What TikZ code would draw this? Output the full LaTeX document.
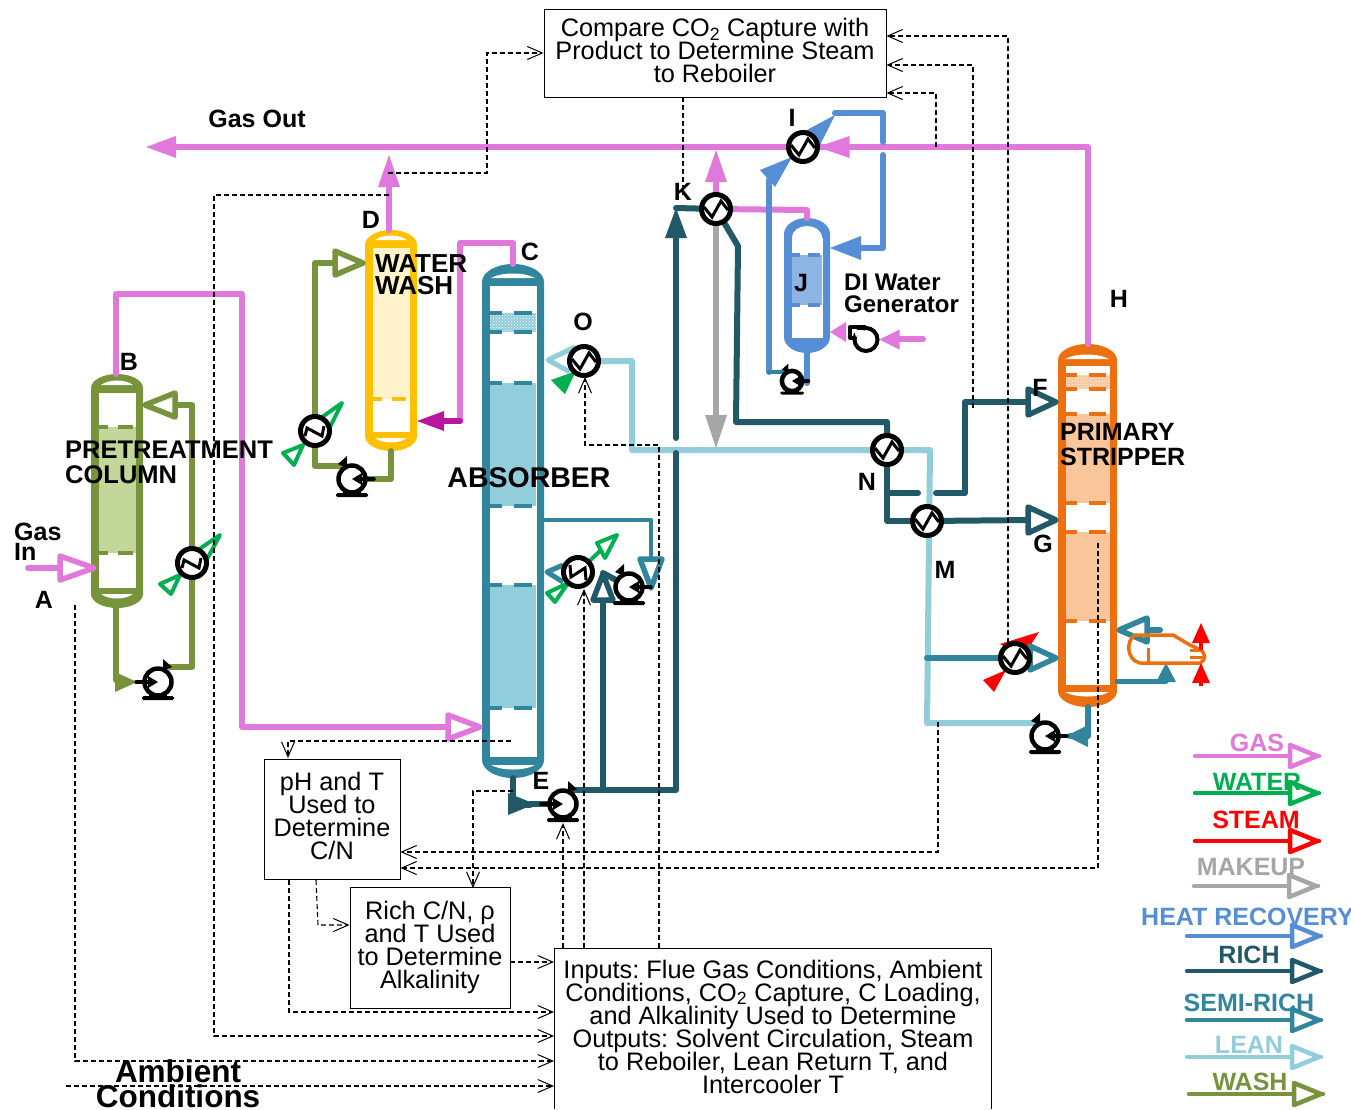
\documentclass[tikz,border=0pt]{standalone}
\usepackage{fontspec}
\setmainfont{Liberation Sans}
\usetikzlibrary{arrows.meta,patterns}
\lineskiplimit=-100pt
\frenchspacing
\definecolor{gasc}{HTML}{E178DC}
\definecolor{waterc}{HTML}{00B050}
\definecolor{steamc}{HTML}{FF0000}
\definecolor{makeupc}{HTML}{A6A6A6}
\definecolor{heatc}{HTML}{558ED5}
\definecolor{richc}{HTML}{215968}
\definecolor{semic}{HTML}{31859C}
\definecolor{leanc}{HTML}{92CDDC}
\definecolor{washc}{HTML}{77933C}
\definecolor{stripc}{HTML}{EC7010}
\definecolor{wwc}{HTML}{FFC000}
\definecolor{magc}{HTML}{B9169F}
\definecolor{prepack}{HTML}{C4D79B}
\definecolor{strpack}{HTML}{F9C59A}
\definecolor{jpack}{HTML}{8EB4E3}
\pgfdeclarelayer{ves}
\pgfdeclarelayer{bg}
\pgfsetlayers{ves,bg,main}
\tikzset{
  pipe/.style={line width=6pt,line cap=round,line join=round},
  coolw/.style={waterc,fill=white,line width=4pt,line join=round},
  ctrl/.style={line width=1.1pt,dash pattern=on 5pt off 3pt},
  ctrlarrow/.style={ctrl,-{Straight Barb[length=15pt,width=13pt,line width=1pt]}},
  hxnode/.style={circle,draw=black,fill=white,line width=5pt,minimum size=29pt,inner sep=0pt,outer sep=0pt},
  pumpnode/.style={circle,draw=black,fill=white,line width=4.5pt,inner sep=0pt,outer sep=0pt},
  vesselbox/.style={rectangle,inner sep=0pt,outer sep=0pt},
  box/.style={rectangle,draw=black,line width=0.8pt,fill=white,inner sep=0pt},
  txt/.style={inner sep=0pt,align=center,font=\fontsize{25.3}{23}\selectfont},
  lbl/.style={inner sep=0pt,font=\bfseries\fontsize{25}{25}\selectfont},
  leg/.style={inner sep=0pt,font=\bfseries\fontsize{25}{25}\selectfont},
}
% open and filled arrowheads: colour, tip, direction, length, half width
\newcommand\otri[5]{\begin{scope}[shift={#2},rotate=#3]
  \draw[#1,fill=white,line width=5.5pt,line join=round] (-2,0)--(-#4,#5)--(-#4,-#5)--cycle;\end{scope}}
\newcommand\ftri[5]{\begin{scope}[shift={#2},rotate=#3]
  \fill[#1] (0,0)--(-#4,#5)--(-#4,-#5)--cycle;\end{scope}}
% column: name, xl, xr, ytop, ybot, inner top, inner bottom, head height, colour
\newcommand\vesselbody[9]{%
  \pgfmathsetmacro\vm{(#2+#3)/2}\pgfmathsetmacro\vw{#3-#2}\pgfmathsetmacro\vh{#5-#4}%
  \pgfmathsetmacro\vc{(#4+#5)/2}\pgfmathsetmacro\hw{\vw/2}%
  \node[vesselbox,minimum width=\vw pt,minimum height=\vh pt] (#1) at (\vm,\vc) {};
  \fill[#9] (#2,#4+#8) .. controls (#2,#4+0.45*#8) and (\vm-0.55*\hw,#4) .. (\vm,#4)
    .. controls (\vm+0.55*\hw,#4) and (#3,#4+0.45*#8) .. (#3,#4+#8) -- (#3,#5-#8)
    .. controls (#3,#5-0.45*#8) and (\vm+0.55*\hw,#5) .. (\vm,#5)
    .. controls (\vm-0.55*\hw,#5) and (#2,#5-0.45*#8) .. (#2,#5-#8) -- cycle;
  \fill[white] (#2+7.5,#6) rectangle (#3-7.5,#7);}
\newcommand\crescents[4]{% xm, half width, y top crescent, y bottom crescent
  \fill[white] (#1-#2,#3) .. controls (#1-0.5*#2,#3-6) and (#1+0.5*#2,#3-6) .. (#1+#2,#3) -- cycle;
  \fill[white] (#1-#2,#4) .. controls (#1-0.5*#2,#4+6) and (#1+0.5*#2,#4+6) .. (#1+#2,#4) -- cycle;}
% packing: x1,x2,y1,y2,fill,dash colour
\newcommand\tdash[4]{\pgfmathsetmacro\dw{#2-#1}%
  \draw[#4,line width=3.5pt] (#1,#3)--(#1+0.26*\dw,#3) (#1+0.52*\dw,#3)--(#1+0.92*\dw,#3);}
\newcommand\packing[6]{\fill[#5] (#1,#3) rectangle (#2,#4);\tdash{#1}{#2}{#3}{#6}\tdash{#1}{#2}{#4}{#6}}
\newcommand\dotpack[6]{\fill[#5] (#1,#3) rectangle (#2,#4);
  \fill[pattern=crosshatch dots,pattern color=white] (#1,#3) rectangle (#2,#4);
  \tdash{#1}{#2}{#3}{#6}\tdash{#1}{#2}{#4}{#6}}
% heat exchanger: name,x,y,zigzag
\newcommand\hxn[4]{\node[hxnode] (#1) at (#2,#3) {};
  \begin{scope}[shift={(#2,#3)}]
  \draw[black,line width=3pt,line join=miter] #4;
  \end{scope}}
\newcommand\zigA{(-12,-2)--(-4,8)--(5,-8)--(12,1)}
\newcommand\zigB{(-10,5)--(-8,-3)--(7,5)--(9,-5)}
\newcommand\zigC{(-8,-7)--(-7,5)--(7,-4)--(8,8)}
% pump: name,x,y,mirror,scale
\newcommand\pumpn[5]{\pgfmathsetmacro\pd{27*#5}%
  \begin{scope}[shift={(#2,#3)},xscale=#4,scale=#5]
  \fill[black,rounded corners=1.5pt] (-16,14) rectangle (16,18);
  \fill[black] (-9,10) rectangle (9,15);
  \end{scope}
  \node[pumpnode,minimum size=\pd pt] (#1) at (#2,#3) {};
  \begin{scope}[shift={(#2,#3)},xscale=#4,scale=#5]
  \draw[black,line width=3.5pt,line cap=round] (-22,0)--(-9,0);
  \fill[black] (-10,-6)--(0,0)--(-10,6)--cycle;
  \fill[black] (5,-23)--(14,-15)--(5,-11)--cycle;
  \end{scope}}
\begin{document}
\begin{tikzpicture}[x=1pt,y=-1pt]
\useasboundingbox (0,0) rectangle (1351,1109);
% ---------- columns
\begin{pgfonlayer}{ves}
\fill[white] (0,0) rectangle (1351,1109);
\vesselbody{pre}{91}{143}{374}{608}{393}{588}{14}{washc}
\crescents{117}{16}{385}{594}
\packing{98.5}{135.5}{427}{553}{prepack}{washc}
\vesselbody{ww}{365}{417}{230}{451}{248}{432}{15}{wwc}
\crescents{391}{16}{240}{438}
\fill[wwc!20!white] (373,248) rectangle (409,399);
\tdash{373}{409}{399}{wwc}
\vesselbody{abs}{482}{544}{264}{778}{286}{757}{18}{semic}
\crescents{513}{22}{278}{765}
\dotpack{490}{536}{313}{332}{leanc}{semic}
\packing{490}{536}{383}{506}{leanc}{semic}
\packing{490}{536}{585}{708}{leanc}{semic}
\vesselbody{str}{1058}{1117}{344}{707}{366}{685}{16}{stripc}
\crescents{1087}{22}{359}{692}
\dotpack{1066}{1110}{375}{389}{strpack}{stripc}
\packing{1066}{1110}{414}{503}{strpack}{stripc}
\packing{1066}{1110}{532}{621}{strpack}{stripc}
\vesselbody{jv}{784}{830}{218}{353}{238}{338}{16}{heatc}
\fill[white] (792,238) .. controls (792,230) and (800,226) .. (807,226) .. controls (814,226) and (822,230) .. (822,238) -- cycle;
\packing{792}{822}{255}{305}{jpack}{heatc}
\end{pgfonlayer}
% ---------- equipment
\hxn{hxpre}{192}{563}{\zigB}
\hxn{hxww}{315}{431}{\zigB}
\hxn{hxO}{584}{361}{\zigA}
\hxn{hxsemi}{578}{572}{\zigC}
\hxn{hxI}{803}{147}{\zigA}
\hxn{hxK}{716}{209}{\zigA}
\hxn{hxN}{887}{450}{\zigA}
\hxn{hxM}{927}{521}{\zigA}
\hxn{hxS}{1015}{658}{\zigA}
\pumpn{ppre}{158}{682}{1}{1}
\pumpn{pww}{352}{479}{-1}{1}
\pumpn{pE}{563}{804}{1}{1}
\pumpn{psemi}{629}{587}{-1}{1}
\pumpn{pstr}{1045}{736}{-1}{1}
\pumpn{pJ}{792}{381}{-1}{0.75}
% blower
\fill[white] (850,327) -- (866,327) -- (855,345) -- (850,338) -- cycle;
\draw[black,line width=4pt,line join=round] (866,327) -- (850,327) -- (850,338) -- (854,338);
\node[circle,draw=black,line width=4pt,minimum size=23pt,inner sep=0pt] (blow) at (866,339.5) {};
\fill[white] (854,330) -- (864,330) -- (856,337) -- cycle;
% ---------- pipes
\coordinate (gasinend) at (28,568);
\coordinate (gasoutend) at (146,147);
\coordinate (diend) at (923,339);
\begin{pgfonlayer}{bg}
% gas
\draw[pipe,gasc] (gasinend) -- (60,568);
\otri{gasc}{(96,568)}{0}{36}{12}
\draw[pipe,gasc] (pre.north -| 116,0) -- (116,294) -- (242,294) -- (242,727) -- (450,727);
\otri{gasc}{(abs.west |- 0,727)}{0}{34}{12}
\draw[pipe,gasc] (str.north -| 1088,0) -- (1088,147) -- (hxI);
\ftri{gasc}{(hxI.east)}{180}{32}{11}
\draw[pipe,gasc] (hxI) -- (176,147);
\ftri{gasc}{(gasoutend)}{180}{30}{11}
\draw[pipe,gasc] (ww.north -| 389,0) -- (389,187);
\ftri{gasc}{(389,155)}{90}{32}{11}
\draw[pipe,gasc] (abs.north) -- (513,243) -- (460,243) -- (460,421);
\draw[pipe,magc] (460,421) -- (440,421);
\ftri{magc}{(ww.east |- 0,421)}{180}{27}{10}
\draw[pipe,gasc] (hxK) -- (716,182);
\ftri{gasc}{(hxK.north |- 0,150)}{90}{32}{11}
\draw[pipe,gasc] (hxK) -- (807,210) -- (jv.north);
\draw[pipe,gasc] (diend) -- (900,339);
\ftri{gasc}{(blow.east)}{180}{20}{10}
\ftri{gasc}{(jv.east |- 0,332)}{180}{16}{10}
% wash
\draw[pipe,washc] (pre.south -| 116,0) -- (116,680);
\ftri{washc}{(137,682)}{0}{22}{10}
\draw[pipe,washc] (ppre) ++(12,-15) -- (192,667) -- (192,405) -- (170,405);
\otri{washc}{(pre.east |- 0,405)}{180}{32}{12}
\draw[pipe,washc] (ww.south) -- (391,479) -- (pww);
\draw[pipe,washc] (pww) ++(-12,-13) -- (315,466) -- (315,263) -- (335,263);
\otri{washc}{(ww.west |- 0,263)}{0}{30}{12}
% cooling water
\draw[coolw] (160,584)--(171,594)--(180,575)--cycle;
\draw[coolw] (195,552)--(206,561)--(220,535)--cycle;
\draw[coolw] (283,453)--(294,465)--(303,445)--cycle;
\draw[coolw] (318,420)--(329,429)--(342,403)--cycle;
\draw[coolw] (547,593)--(555,602)--(568,583)--cycle;
\draw[waterc,line width=4pt] (hxsemi) -- (601,550);
\draw[coolw] (597,543)--(605,558)--(617,535)--cycle;
\fill[waterc] (551,380)--(565,394)--(576,371)--cycle;
% steam
\fill[steamc] (983,680)--(994,692)--(1006,670)--cycle;
\fill[steamc] (1000,644)--(1023,657)--(1039,632)--cycle;
% lean
\draw[leanc,line width=5pt,line join=round] (575,347)--(548,360)--(570,372);
\draw[pipe,leanc] (hxO) -- (632,361) -- (632,450) -- (930,450) -- (927,723) -- (1037,723);
% rich
\draw[pipe,richc] (abs.south) -- (513,805) -- (530,805);
\ftri{richc}{(535,804)}{0}{27}{11}
\draw[pipe,richc] (530,804) -- (pE);
\draw[pipe,richc] (pE) ++(10,-14) -- (676,790) -- (676,453);
\draw[pipe,richc] (676,438) -- (676,238);
\ftri{richc}{(676,208)}{90}{30}{11}
\draw[pipe,richc] (676,208) -- (hxK);
\draw[pipe,richc] (hxK) -- (738,246) -- (736,422) -- (887,422) -- (hxN);
\draw[pipe,richc] (hxN) -- (887,521) -- (hxM);
\draw[pipe,richc] (hxM) -- (1032,520);
\otri{richc}{(str.west |- 0,520)}{0}{30}{13}
\draw[pipe,richc] (887,493) -- (918,493);
\draw[pipe,richc] (936,493) -- (965,493) -- (965,402) -- (1032,402);
\otri{richc}{(str.west |- 0,402)}{0}{30}{13}
\draw[pipe,richc] (603,790) -- (603,600);
\otri{richc}{(603,572)}{90}{28}{10}
\draw[pipe,richc] (603,573) -- (psemi);
\draw[pipe,makeupc] (hxK) -- (716,415);
\ftri{makeupc}{(hxK.south |- 0,448)}{-90}{33}{11}
% semi rich
\draw[semic,line width=4.5pt,line cap=round,line join=round] (abs.east |- 0,520) -- (651,520) -- (651,557);
\otri{semic}{(651,590)}{-90}{31}{11}
\draw[semic,line width=5pt,line join=round] (563,565)--(547,572)--(563,582);
\draw[pipe,semic] (927,658) -- (hxS);
\otri{semic}{(str.west |- 0,658)}{0}{28}{12}
\draw[pipe,semic] (1088,707) -- (1088,736) -- (1070,736);
\fill[semic] (1066,736)--(1088,725)--(1088,747)--cycle;
\draw[semic,line width=5pt,line cap=round] (str.east |- 0,681) -- (1166,681);
\ftri{semic}{(1166,663)}{90}{19}{10}
\draw[pipe,semic] (1147,630) -- (1160,630);
\otri{semic}{(str.east |- 0,630)}{180}{30}{12}
% heat recovery
\draw[pipe,heatc] (jv.south) -- (807,383);
\draw[pipe,heatc] (769,372) -- (769,180);
\draw[semic,line width=4pt,line cap=round] (769,372) -- (782,372);
\fill[heatc] (760,170)--(775,187)--(792,157)--cycle;
\fill[heatc] (835,115)--(803,132)--(820,145)--cycle;
\draw[pipe,heatc] (835,113) -- (883,113) -- (883,142);
\draw[pipe,heatc] (883,155) -- (883,248) -- (860,248);
\ftri{heatc}{(jv.east |- 0,248)}{180}{31}{12}
% reboiler
\draw[stripc,line width=3.5pt,line join=round] (1135,635) -- (1173,635) -- (1190,645) -- (1201,650) .. controls (1206,655) and (1206,660) .. (1200,663) -- (1140,663) .. controls (1126,660) and (1126,640) .. (1135,635);
\draw[stripc,line width=3pt] (1148,648) -- (1148,662) (1190,650) -- (1203,650) (1190,657) -- (1204,657);
\draw[steamc,line width=4pt] (1201,640) -- (1201,650) (1201,680) -- (1201,686);
\ftri{steamc}{(1201,623)}{90}{20}{9}
\ftri{steamc}{(1201,663)}{90}{20}{9}
\end{pgfonlayer}
% ---------- boxes
\node[box,minimum width=342pt,minimum height=88pt] (cmp) at (715,53) {};
\node[txt] (cmpt) at (715,50.5) {Compare CO\textsubscript{2} Capture with\\Product to Determine Steam\\to Reboiler};
\node[box,minimum width=136pt,minimum height=120pt] (phb) at (332,819) {};
\node[txt] (phbt) at (332,816) {pH and T\\Used to\\Determine\\C/N};
\node[box,minimum width=160pt,minimum height=121pt] (rcn) at (430,947.5) {};
\node[txt] (rcnt) at (430,947) {Rich C/N, ρ\\and T Used\\to Determine\\Alkalinity};
\node[txt] (inp) at (773,1026.5) {Inputs: Flue Gas Conditions, Ambient\\Conditions, CO\textsubscript{2} Capture, C Loading,\\and Alkalinity Used to Determine\\Outputs: Solvent Circulation, Steam\\to Reboiler, Lean Return T, and\\Intercooler T};
\coordinate (inTL) at (554,948);
\coordinate (inTR) at (991,948);
\draw[black,line width=0.8pt] (inTL |- 0,1109) -- (inTL) -- (inTR) -- (inTR |- 0,1109);
% ---------- control lines
\coordinate (ambstart) at (66,1086);
\coordinate (ctl1) at (388,173);
\coordinate (ctl2) at (389,195);
\draw[ctrlarrow] (ctl1) -- (487,173) -- (487,53) -- (cmp.west |- 0,53);
\draw[ctrlarrow] (ctl2) -- (214,195) -- (214,1036) -- (inTL |- 0,1036);
\draw[ctrlarrow] (1008,643) -- (1008,36) -- (cmp.east |- 0,36);
\draw[ctrlarrow] (973,408) -- (973,65) -- (cmp.east |- 0,65);
\draw[ctrlarrow] (936,147) -- (936,93) -- (cmp.east |- 0,93);
\draw[ctrl] (683,97) -- (683,195);
\draw[ctrlarrow] (659,948) -- (659,445) -- (585,445) -- (585,377);
\draw[ctrlarrow] (584,948) -- (584,589);
\draw[ctrlarrow] (563,948) -- (563,823);
\draw[ctrlarrow] (513,791) -- (473,791) -- (473,888);
\draw[ctrlarrow] (511,741) -- (288,741) -- (288,758);
\draw[ctrlarrow] (289,880) -- (289,1012) -- (inTL |- 0,1012);
\draw[ctrlarrow] (316,880) -- (318,925) -- (rcn.west |- 0,925);
\draw[ctrlarrow] (rcn.east |- 0,962) -- (inTL |- 0,962);
\draw[ctrlarrow] (75,605) -- (75,1061) -- (inTL |- 0,1061);
\draw[ctrlarrow] (ambstart) -- (inTL |- 0,1086);
\draw[ctrlarrow] (938,722) -- (938,852) -- (phb.east |- 0,852);
\draw[ctrlarrow] (1098,543) -- (1098,868) -- (phb.east |- 0,868);
% ---------- labels
\node[lbl] (tA) at (44,600) {A};
\node[lbl] (tB) at (129,362) {B};
\node[lbl] (tC) at (530,252) {C};
\node[lbl] (tD) at (371,220) {D};
\node[lbl] (tE) at (541,781) {E};
\node[lbl] (tF) at (1040,388) {F};
\node[lbl] (tG) at (1043,544) {G};
\node[lbl] (tH) at (1119,299) {H};
\node[lbl] (tI) at (792,118) {I};
\node[lbl] (tJ) at (801,283) {J};
\node[lbl] (tK) at (683,192) {K};
\node[lbl] (tM) at (945,570) {M};
\node[lbl] (tN) at (867,482) {N};
\node[lbl] (tO) at (583,322) {O};
\node[lbl] (tGasOut) at (257,119) {Gas Out};
\node[lbl,font=\bfseries\fontsize{25}{20}\selectfont,anchor=west,align=left] (tGasIn) at (14,542) {Gas\\In};
\node[lbl,font=\bfseries\fontsize{25.5}{25}\selectfont,anchor=west,align=left] (tPre) at (65,462) {PRETREATMENT\\COLUMN};
\node[lbl,font=\bfseries\fontsize{26}{22}\selectfont,anchor=west,align=left] (tWW) at (375,275) {WATER\\WASH};
\node[lbl,font=\bfseries\fontsize{28.5}{28}\selectfont] (tAbs) at (529,478) {ABSORBER};
\node[lbl,font=\bfseries\fontsize{25}{25}\selectfont,anchor=west,align=left] (tStr) at (1060,445) {PRIMARY\\STRIPPER};
\node[lbl,font=\bfseries\fontsize{24}{22}\selectfont,anchor=west,align=left] (tDI) at (844,293) {DI Water\\Generator};
\node[lbl,font=\bfseries\fontsize{31.5}{25}\selectfont,align=center] (tAmb) at (178,1084) {Ambient\\Conditions};
% ---------- legend
\newcommand\legarrow[4]{\coordinate (#1a) at (#2,#4); \coordinate (#1b) at (#3,#4);
  \draw[pipe,line width=4.5pt,#1c] (#1a) -- (#1b);
  \begin{scope}[shift={(#1b)}]\draw[#1c,fill=white,line width=4.5pt,line join=round] (-2,0)--(-29,-11)--(-29,11)--cycle;\end{scope}}
\colorlet{gc}{gasc}\colorlet{wc}{waterc}\colorlet{sc}{steamc}\colorlet{mc}{makeupc}\colorlet{hc}{heatc}\colorlet{rc}{richc}\colorlet{nc}{semic}\colorlet{lc}{leanc}\colorlet{vc}{washc}
\legarrow{g}{1195}{1319}{756}
\legarrow{w}{1195}{1319}{793}
\legarrow{s}{1195}{1319}{841}
\legarrow{m}{1194}{1318}{886}
\legarrow{h}{1187}{1321}{936}
\legarrow{r}{1187}{1321}{971}
\legarrow{n}{1187}{1321}{1020}
\legarrow{l}{1187}{1321}{1057}
\legarrow{v}{1189}{1323}{1094}
\node[leg,text=gasc] (lgas) at (1257,743) {GAS};
\node[leg,text=waterc] (lwat) at (1257,782) {WATER};
\node[leg,text=steamc] (lste) at (1256,820) {STEAM};
\node[leg,text=makeupc] (lmak) at (1251,867) {MAKEUP};
\node[leg,text=heatc,anchor=west] (lhea) at (1141,917) {HEAT RECOVERY};
\node[leg,text=richc] (lric) at (1249,955) {RICH};
\node[leg,text=semic] (lsem) at (1249,1003) {SEMI-RICH};
\node[leg,text=leanc] (llea) at (1249,1045) {LEAN};
\node[leg,text=washc] (lwas) at (1250,1082) {WASH};
\end{tikzpicture}
\end{document}
